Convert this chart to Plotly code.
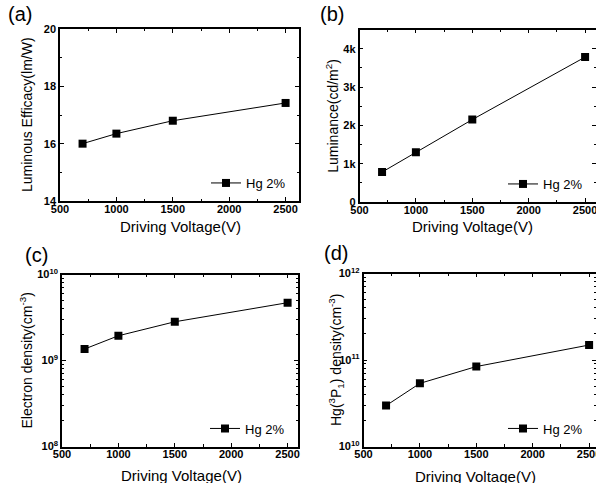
import plotly.graph_objects as go

W, H = 596, 483

voltage = [700, 1000, 1500, 2500]
efficacy = [16.0, 16.35, 16.8, 17.42]
luminance = [780, 1300, 2150, 3780]
electron_density = [1.36e9, 1.94e9, 2.82e9, 4.7e9]
hg_density = [2.97e10, 5.37e10, 8.4e10, 1.49e11]

series_name = "Hg 2%"
x_title = "Driving Voltage(V)"
y_titles = ["Luminous Efficacy(lm/W)", "Luminance(cd/m<sup>2</sup>)",
            "Electron density(cm<sup>-3</sup>)",
            "Hg(<sup>3</sup>P<sub>1</sub>) density(cm<sup>-3</sup>)"]
panel_labels = ["(a)", "(b)", "(c)", "(d)"]
x_ticks = [500, 1000, 1500, 2000, 2500]
a_ticks = [14, 16, 18, 20]
b_ticks = [0, 1000, 2000, 3000, 4000]
b_ticklabels = ["0", "1k", "2k", "3k", "4k"]
c_ticks = [1e8, 1e9, 1e10]
c_ticklabels = ["10<sup>8</sup>", "10<sup>9</sup>", "10<sup>10</sup>"]
d_ticks = [1e10, 1e11, 1e12]
d_ticklabels = ["10<sup>10</sup>", "10<sup>11</sup>", "10<sup>12</sup>"]


def px(x):
    return x / W


def py(y):
    return 1 - y / H


# plot areas in pixels: (left, right, top, bottom)
boxes = [(60, 299, 29, 201), (359.5, 596, 29.5, 202),
         (62, 298, 274.5, 446.5), (363.5, 596, 273.5, 446.5)]

fig = go.Figure()
data = [efficacy, luminance, electron_density, hg_density]
FONT = "Arial"

for i, (ys, box) in enumerate(zip(data, boxes)):
    n = "" if i == 0 else str(i + 1)
    fig.add_trace(go.Scatter(
        x=voltage, y=ys, mode="lines+markers", name=series_name,
        line=dict(color="black", width=1),
        marker=dict(symbol="square", size=8, color="black"),
        xaxis="x" + n, yaxis="y" + n,
        legend="legend" + n,
    ))

axis_common = dict(
    showline=True, linecolor="black", linewidth=1.5, mirror="ticks",
    ticks="inside", ticklen=4, tickwidth=1.2, tickcolor="black",
    showgrid=False, zeroline=False, automargin=False,
    ticklabeloverflow="allow",
    tickfont=dict(family=FONT, size=11, color="black", weight="bold"),
)

layout = dict(width=W, height=H, plot_bgcolor="white", paper_bgcolor="white",
              margin=dict(l=0, r=0, t=0, b=0, autoexpand=False), showlegend=True,
              font=dict(family=FONT, color="black"))

yconfs = [
    dict(range=[14, 20], tickvals=a_ticks,
         minor=dict(ticks="inside", ticklen=2.5, tickcolor="black", dtick=1)),
    dict(range=[0, 4500], tickvals=b_ticks, ticktext=b_ticklabels,
         minor=dict(ticks="inside", ticklen=2.5, tickcolor="black", dtick=500)),
    dict(type="log", range=[8, 10], tickvals=c_ticks, ticktext=c_ticklabels,
         minor=dict(ticks="inside", ticklen=2.5, tickcolor="black",
                    tickvals=[k * 10 ** e for e in (8, 9) for k in range(2, 10)])),
    dict(type="log", range=[10, 12], tickvals=d_ticks, ticktext=d_ticklabels,
         minor=dict(ticks="inside", ticklen=2.5, tickcolor="black",
                    tickvals=[k * 10 ** e for e in (10, 11) for k in range(2, 10)])),
]

annotations = []
label_pos = [(20, 14), (332, 14), (36, 255), (336, 253)]
ytitle_x = [27, 332, 26, 336]
xtitle_y = [227, 227, 475, 476]
xtitle_x = [180, 472, 181, 475]

for i, box in enumerate(boxes):
    n = "" if i == 0 else str(i + 1)
    l, r, t, b = box
    xr_end = 500 + (r - l) / 0.1128
    layout["xaxis" + n] = dict(axis_common, domain=[px(l), px(r)],
                               range=[500, xr_end], tickvals=x_ticks,
                               anchor="y" + n, ticklabelstandoff=-3,
                               minor=dict(ticks="inside", ticklen=2.5,
                                          tickcolor="black", dtick=250))
    layout["yaxis" + n] = dict(axis_common, domain=[py(b), py(t)],
                               anchor="x" + n, **yconfs[i])
    layout["legend" + n] = dict(
        x=px(r - 8), y=py(b - 18), xanchor="right", yanchor="middle",
        bgcolor="rgba(0,0,0,0)", font=dict(family=FONT, size=13, color="black"),
        itemwidth=30, tracegroupgap=0)
    common_ann = dict(xref="paper", yref="paper", showarrow=False,
                      xanchor="center", yanchor="middle")
    annotations.append(dict(common_ann, text=panel_labels[i], x=px(label_pos[i][0]),
                            y=py(label_pos[i][1]),
                            font=dict(family=FONT, size=20)))
    annotations.append(dict(common_ann, text=y_titles[i], x=px(ytitle_x[i]),
                            y=py((t + b) / 2), textangle=-90,
                            font=dict(family=FONT, size=14)))
    annotations.append(dict(common_ann, text=x_title, x=px(xtitle_x[i]),
                            y=py(xtitle_y[i]),
                            font=dict(family=FONT, size=15)))

layout["annotations"] = annotations
fig.update_layout(**layout)
fig.write_html(
    "out.html",
    config={"displayModeBar": False},
    post_script="document.documentElement.style.margin='0';"
                "document.body.style.margin='0';"
                "document.body.style.overflow='hidden';")
